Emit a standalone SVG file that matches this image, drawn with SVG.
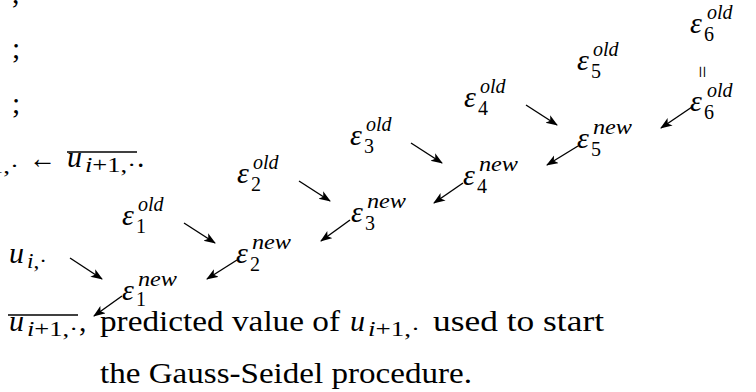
<svg xmlns="http://www.w3.org/2000/svg" width="756" height="392" viewBox="0 0 756 392" font-family="'Liberation Serif', 'Times New Roman', Tinos, 'DejaVu Serif', serif">
<style>
text { font-family: "Liberation Serif", "Times New Roman", Tinos, "DejaVu Serif", serif; fill: #000; }
.m { font-size: 30px; font-style: italic; }
.t { font-size: 29.5px; }
.sp { font-size: 20px; font-style: italic; }
.sb { font-size: 20px; }
.si { font-size: 21px; font-style: italic; }
.sb2 { font-size: 21px; }
.ol { stroke: #000; stroke-width: 1.3; }
.c line { stroke: #000; stroke-width: 1.4; marker-end: url(#ah); }
</style>
<defs>
<marker id="ah" markerUnits="userSpaceOnUse" markerWidth="13" markerHeight="10" refX="11" refY="4.5" orient="auto">
<path d="M0,0 L12,4.5 L0,9 L3,4.5 Z" fill="#000"/>
</marker>
</defs>

<g id="left-column">
<text class="t" x="12" y="3">,</text>
<text class="t" x="12" y="58">;</text>
<text class="t" x="12" y="113">;</text>
</g>

<g id="assign">
<text class="m" x="-50" y="168">u</text>
<text x="-33" y="173" textLength="52" lengthAdjust="spacingAndGlyphs"><tspan class="si">i</tspan><tspan class="sb2">+1,·</tspan></text>
<text class="t" x="29" y="168" textLength="27" lengthAdjust="spacingAndGlyphs">←</text>
<text class="m" x="67" y="167">u</text>
<text x="85" y="172" textLength="51" lengthAdjust="spacingAndGlyphs"><tspan class="si">i</tspan><tspan class="sb2">+1,·</tspan></text>
<text class="t" x="137" y="167">.</text>
<line class="ol" x1="67" y1="152" x2="137" y2="152"/>
</g>

<g id="u-i">
<text class="m" x="9" y="263">u</text>
<text x="27" y="268" textLength="20" lengthAdjust="spacingAndGlyphs"><tspan class="si">i</tspan><tspan class="sb2">,·</tspan></text>
</g>

<g id="eps6-old-top">
<text class="m" x="690" y="33">ε</text><text class="sp" x="707" y="19">old</text><text class="sb" x="704" y="41">6</text>
</g>
<g id="equals">
<text class="t" x="0" y="0" text-anchor="middle" transform="translate(702,72) rotate(90) translate(0,7)" style="font-size:22px">=</text>
</g>
<g id="eps6-old">
<text class="m" x="690" y="111">ε</text><text class="sp" x="707" y="97">old</text><text class="sb" x="704" y="119">6</text>
</g>
<g id="eps5-old">
<text class="m" x="577" y="70">ε</text><text class="sp" x="593" y="56">old</text><text class="sb" x="591" y="78">5</text>
</g>
<g id="eps5-new">
<text class="m" x="577" y="148">ε</text><text class="sp" x="593" y="134" textLength="39" lengthAdjust="spacingAndGlyphs">new</text><text class="sb" x="591" y="156">5</text>
</g>
<g id="eps4-old">
<text class="m" x="464" y="107">ε</text><text class="sp" x="480" y="93">old</text><text class="sb" x="478" y="115">4</text>
</g>
<g id="eps4-new">
<text class="m" x="463" y="185">ε</text><text class="sp" x="479" y="171" textLength="39" lengthAdjust="spacingAndGlyphs">new</text><text class="sb" x="477" y="193">4</text>
</g>
<g id="eps3-old">
<text class="m" x="350" y="145">ε</text><text class="sp" x="366" y="131">old</text><text class="sb" x="364" y="153">3</text>
</g>
<g id="eps3-new">
<text class="m" x="351" y="222">ε</text><text class="sp" x="367" y="208" textLength="39" lengthAdjust="spacingAndGlyphs">new</text><text class="sb" x="365" y="230">3</text>
</g>
<g id="eps2-old">
<text class="m" x="237" y="183">ε</text><text class="sp" x="253" y="169">old</text><text class="sb" x="251" y="191">2</text>
</g>
<g id="eps2-new">
<text class="m" x="236" y="263">ε</text><text class="sp" x="252" y="249" textLength="39" lengthAdjust="spacingAndGlyphs">new</text><text class="sb" x="250" y="271">2</text>
</g>
<g id="eps1-old">
<text class="m" x="122" y="225">ε</text><text class="sp" x="138" y="211">old</text><text class="sb" x="136" y="233">1</text>
</g>
<g id="eps1-new">
<text class="m" x="122" y="300">ε</text><text class="sp" x="138" y="286" textLength="39" lengthAdjust="spacingAndGlyphs">new</text><text class="sb" x="136" y="306">1</text>
</g>

<g id="note">
<text class="m" x="9" y="331">u</text>
<text x="27" y="336" textLength="51" lengthAdjust="spacingAndGlyphs"><tspan class="si">i</tspan><tspan class="sb2">+1,·</tspan></text>
<text class="t" x="79" y="331">,</text>
<line class="ol" x1="8" y1="315" x2="78" y2="315"/>
<text class="t" x="100" y="331" textLength="240" lengthAdjust="spacingAndGlyphs">predicted value of</text>
<text class="m" x="350" y="331">u</text>
<text x="368" y="336" textLength="52" lengthAdjust="spacingAndGlyphs"><tspan class="si">i</tspan><tspan class="sb2">+1,·</tspan></text>
<text class="t" x="433" y="331" textLength="171" lengthAdjust="spacingAndGlyphs">used to start</text>
<text class="t" x="100" y="383" textLength="372" lengthAdjust="spacingAndGlyphs">the Gauss-Seidel procedure.</text>
</g>

<g id="connectors" class="c">
<line x1="70" y1="258" x2="102" y2="279"/>
<line x1="184" y1="223" x2="215" y2="243"/>
<line x1="299" y1="181" x2="330" y2="201"/>
<line x1="411" y1="143" x2="442" y2="163"/>
<line x1="526" y1="105" x2="557" y2="125"/>
<line x1="122" y1="296" x2="94" y2="316"/>
<line x1="237" y1="260" x2="207" y2="279"/>
<line x1="350" y1="220" x2="321" y2="241"/>
<line x1="463" y1="183" x2="434" y2="203"/>
<line x1="578" y1="146" x2="547" y2="165"/>
<line x1="692" y1="107" x2="661" y2="128"/>
</g>
</svg>
